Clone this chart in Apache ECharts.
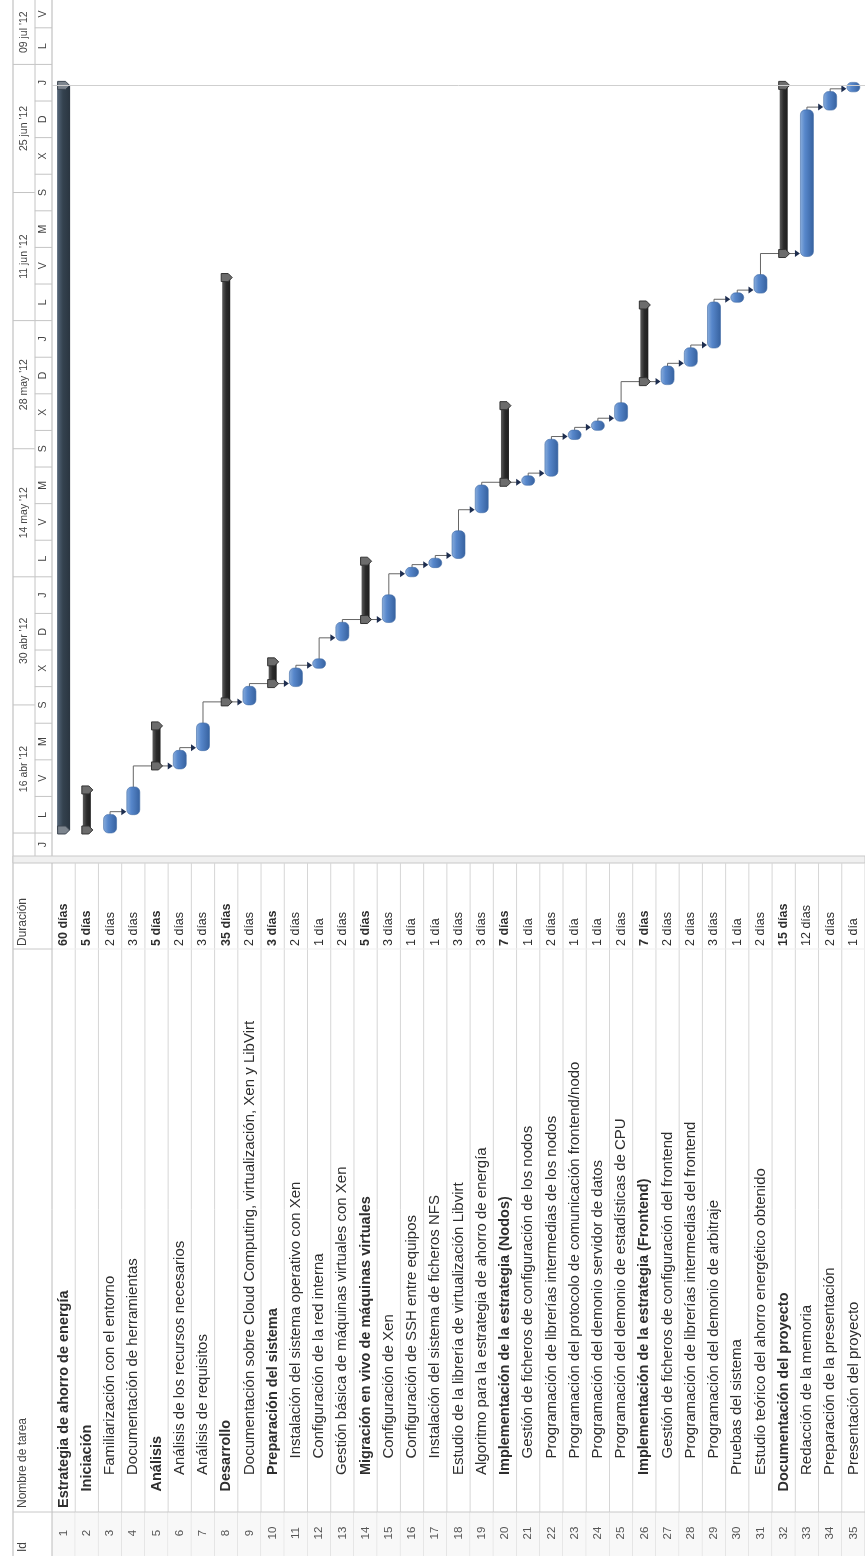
<!DOCTYPE html>
<html>
<head>
<meta charset="utf-8">
<script src="https://cdn.jsdelivr.net/npm/echarts@6/dist/echarts.min.js"></script>
<style>
  html, body { margin: 0; padding: 0; background: #ffffff; }
  #chart { width: 865px; height: 1556px; }
</style>
</head>
<body>
<div id="chart"></div>
<script>
// ---- Project plan data ----
const taskIds = [1,2,3,4,5,6,7,8,9,10,11,12,13,14,15,16,17,18,19,20,21,22,23,24,25,26,27,28,29,30,31,32,33,34,35];
const taskNames = [
  "Estrategia de ahorro de energía",
  "Iniciación",
  "Familiarización con el entorno",
  "Documentación de herramientas",
  "Análisis",
  "Análisis de los recursos necesarios",
  "Análisis de requisitos",
  "Desarrollo",
  "Documentación sobre Cloud Computing, virtualización, Xen y LibVirt",
  "Preparación del sistema",
  "Instalación del sistema operativo con Xen",
  "Configuración de la red interna",
  "Gestión básica de máquinas virtuales con Xen",
  "Migración en vivo de máquinas virtuales",
  "Configuración de Xen",
  "Configuración de SSH entre equipos",
  "Instalación del sistema de ficheros NFS",
  "Estudio de la librería de virtualización Libvirt",
  "Algoritmo para la estrategia de ahorro de energía",
  "Implementación de la estrategia (Nodos)",
  "Gestión de ficheros de configuración de los nodos",
  "Programación de librerías intermedias de los nodos",
  "Programación del protocolo de comunicación frontend/nodo",
  "Programación del demonio servidor de datos",
  "Programación del demonio de estadísticas de CPU",
  "Implementación de la estrategia (Frontend)",
  "Gestión de ficheros de configuración del frontend",
  "Programación de librerías intermedias del frontend",
  "Programación del demonio de arbitraje",
  "Pruebas del sistema",
  "Estudio teórico del ahorro energético obtenido",
  "Documentación del proyecto",
  "Redacción de la memoria",
  "Preparación de la presentación",
  "Presentación del proyecto"
];
// duration in working days
const durations = [60,5,2,3,5,2,3,35,2,3,2,1,2,5,3,1,1,3,3,7,1,2,1,1,2,7,2,2,3,1,2,15,12,2,1];
// outline level of each task
const outlineLevels = [1,2,3,3,2,3,3,2,3,3,4,4,3,3,4,4,4,3,3,3,4,4,4,4,4,3,4,4,4,3,3,2,3,3,3];
// first working day of each task, counted from Monday 16 abr 2012
const startWorkdays = [0,0,0,2,5,5,7,10,10,12,12,14,15,17,17,20,21,22,25,28,28,29,31,32,33,35,35,37,39,42,43,45,45,57,59];
// finish-to-start links [predecessor id, successor id]
const links = [[3,4],[4,6],[6,7],[7,9],[9,11],[11,12],[12,13],[13,15],[15,16],[16,17],[17,18],[18,19],
               [19,21],[21,22],[22,23],[23,24],[24,25],[25,27],[27,28],[28,29],[29,30],[30,31],[31,33],[33,34],[34,35]];

// ---- Timescale (calendar days from 16 abr 2012) ----
const majorTicks = [-14,0,14,28,42,56,70,84];
const majorLabels = ["02 abr '12","16 abr '12","30 abr '12","14 may '12","28 may '12","11 jun '12","25 jun '12","09 jul '12"];
const minorTicks = [-4,0,4,8,12,16,20,24,28,32,36,40,44,48,52,56,60,64,68,72,76,80,84,88];
const minorLabels = ['J','L','V','M','S','X','D','J','L','V','M','S','X','D','J','L','V','M','S','X','D','J','L','V'];

// ---- Layout ----
const FONT = '"Liberation Sans", Arial, sans-serif';
const GANTT_H = 856;
const DAY_MIN = -2.51, DAY_MAX = 91.04;
const TABLE_TOP = 863;
const NAME_EDGE = 949;   // border between Duración and Nombre de tarea
const ID_EDGE = 1512;    // border between Nombre de tarea and Id
const HEADER_W = 39;
const INDENT = 16.5;

// working day -> calendar day (weekends are non-working)
function toCalendar(w) { return w + 2 * Math.floor(w / 5); }
const taskStart = startWorkdays.map(w => toCalendar(w) + 8 / 24);
const taskFinish = startWorkdays.map((w, i) => toCalendar(w + durations[i] - 1) + 17 / 24);
const isSummary = outlineLevels.map((l, i) => i < outlineLevels.length - 1 && outlineLevels[i + 1] > l);
const projectFinish = taskFinish[0];

const taskData = taskIds.map((id, i) => [i, taskStart[i], taskFinish[i]]);
const linkData = links.map(([p, s]) => [p - 1, s - 1]);
const tierData = [];
majorTicks.forEach((d, k) => tierData.push([0, d, d + 14, majorLabels[k]]));
minorTicks.forEach((d, k) => tierData.push([1, d, d + 4, minorLabels[k]]));

function renderTask(params, api) {
  const i = api.value(0);
  const pS = api.coord([i, api.value(1)]);
  const pF = api.coord([i, api.value(2)]);
  const x = pS[0], yS = pS[1], yF = pF[1];
  const kids = [];
  if (i === 0) {
    kids.push({ type: 'rect', shape: { x: x - 6.5, y: yF, width: 13, height: yS - yF },
      style: { fill: new echarts.graphic.LinearGradient(0, 0, 1, 0, [
        { offset: 0, color: '#56677a' }, { offset: 0.45, color: '#34424f' }, { offset: 1, color: '#2a3540' }]) } });
    [yS, yF].forEach(y => kids.push({ type: 'polygon',
      shape: { points: [[x - 6, y - 4], [x + 2, y - 4], [x + 6, y], [x + 2, y + 4], [x - 6, y + 4]] },
      style: { fill: '#7d858e', stroke: '#3b4550', lineWidth: 1 } }));
  } else if (isSummary[i]) {
    kids.push({ type: 'rect', shape: { x: x - 4, y: yF, width: 8, height: yS - yF },
      style: { fill: new echarts.graphic.LinearGradient(0, 0, 1, 0, [
        { offset: 0, color: '#5a5a5a' }, { offset: 0.5, color: '#2a2a2a' }, { offset: 1, color: '#1e1e1e' }]) } });
    [yS, yF].forEach(y => kids.push({ type: 'polygon',
      shape: { points: [[x - 5, y - 4], [x + 2, y - 4], [x + 6, y], [x + 2, y + 4], [x - 5, y + 4]] },
      style: { fill: '#6c6c6c', stroke: '#333333', lineWidth: 1 } }));
  } else {
    const cap = 3;
    kids.push({ type: 'rect', shape: { x: x - 6.5, y: yF - cap, width: 13, height: yS - yF + 2 * cap, r: 5 },
      style: { fill: new echarts.graphic.LinearGradient(0, 0, 1, 0, [
        { offset: 0, color: '#8aaedd' }, { offset: 0.35, color: '#5787cb' }, { offset: 1, color: '#36619f' }]),
        stroke: '#426ca6', lineWidth: 0.6 } });
  }
  return { type: 'group', children: kids };
}

function renderLink(params, api) {
  const p = api.value(0), s = api.value(1);
  const a = api.coord([p, taskFinish[p]]);
  const b = api.coord([s, taskStart[s]]);
  const tip = b[0] - 7;
  return { type: 'group', children: [
    { type: 'polyline', shape: { points: [[a[0], a[1] - 2], [a[0], b[1]], [tip - 4, b[1]]] },
      style: { stroke: '#666666', lineWidth: 1, fill: null } },
    { type: 'polygon', shape: { points: [[tip - 5, b[1] - 3.5], [tip, b[1]], [tip - 5, b[1] + 3.5]] },
      style: { fill: '#1d2d4f' } }
  ] };
}

function renderTier(params, api) {
  const tier = api.value(0);
  const cs = params.coordSys;
  const edges = [0, 0.56, 1];
  const xa = api.coord([edges[tier], 0])[0], xb = api.coord([edges[tier + 1], 0])[0];
  const y0 = api.coord([0, api.value(1)])[1], y1 = api.coord([0, api.value(2)])[1];
  const label = tierData[params.dataIndex][3];
  // labels of cells cut by the edge of the view are centred in the visible part
  const vis0 = Math.min(y0, cs.y + cs.height), vis1 = Math.max(y1, cs.y);
  const textLen = tier === 0 ? 46 : 8;
  const kids = [
    { type: 'line', shape: { x1: xa, y1: y0, x2: xb, y2: y0 }, style: { stroke: '#c4c4c4', lineWidth: 1 } }
  ];
  if (vis0 - vis1 > textLen) {
    kids.push({ type: 'text', x: (xa + xb) / 2, y: (vis0 + vis1) / 2, rotation: Math.PI / 2,
      style: { text: label, fill: '#444444', font: '10.5px ' + FONT, align: 'center', verticalAlign: 'middle' } });
  }
  return { type: 'group', children: kids };
}

function renderRow(params, api) {
  const i = api.value(0);
  const cs = params.coordSys;
  const cx = api.coord([i, 0])[0];
  const bw = api.size([1, 0])[0];
  const x1 = cx + bw / 2, x0 = cx - bw / 2;
  const bottom = cs.y + cs.height;
  const bold = isSummary[i];
  const kids = [
    { type: 'rect', shape: { x: x0, y: ID_EDGE, width: bw, height: bottom - ID_EDGE }, style: { fill: '#f8f8f8' } },
    { type: 'line', shape: { x1: x1, y1: cs.y, x2: x1, y2: bottom }, style: { stroke: '#d6d6d6', lineWidth: 1 } },
    { type: 'line', shape: { x1: x0, y1: NAME_EDGE, x2: x1, y2: NAME_EDGE }, style: { stroke: '#efefef', lineWidth: 1 } },
    { type: 'line', shape: { x1: x0, y1: ID_EDGE, x2: x1, y2: ID_EDGE }, style: { stroke: '#c8c8c8', lineWidth: 1 } },
    { type: 'text', x: cx, y: (ID_EDGE + bottom) / 2 - 1, rotation: Math.PI / 2,
      style: { text: String(taskIds[i]), fill: '#555555', font: '11.5px ' + FONT, align: 'center', verticalAlign: 'middle' } },
    { type: 'text', x: cx, y: ID_EDGE - 4 - (outlineLevels[i] - 1) * INDENT, rotation: Math.PI / 2,
      style: { text: taskNames[i], fill: '#2e2e2e', font: (bold ? 'bold 14.5px ' : '15px ') + FONT,
        align: 'left', verticalAlign: 'middle' } },
    { type: 'text', x: cx, y: NAME_EDGE - 3, rotation: Math.PI / 2,
      style: { text: durations[i] + (durations[i] === 1 ? ' día' : ' días'), fill: '#2e2e2e',
        font: (bold ? 'bold 12.5px ' : '12.5px ') + FONT, align: 'left', verticalAlign: 'middle' } }
  ];
  if (i === 0) {
    const hx0 = cs.x - HEADER_W, hx = hx0 + 10;
    kids.push(
      { type: 'line', shape: { x1: cs.x, y1: cs.y, x2: cs.x, y2: bottom }, style: { stroke: '#bcbcbc', lineWidth: 1 } },
      { type: 'line', shape: { x1: hx0, y1: NAME_EDGE, x2: cs.x, y2: NAME_EDGE }, style: { stroke: '#c8c8c8', lineWidth: 1 } },
      { type: 'line', shape: { x1: hx0, y1: ID_EDGE, x2: cs.x, y2: ID_EDGE }, style: { stroke: '#c8c8c8', lineWidth: 1 } },
      { type: 'text', x: hx, y: NAME_EDGE - 3, rotation: Math.PI / 2,
        style: { text: 'Duración', fill: '#444444', font: '12px ' + FONT, align: 'left', verticalAlign: 'middle' } },
      { type: 'text', x: hx, y: ID_EDGE - 4, rotation: Math.PI / 2,
        style: { text: 'Nombre de tarea', fill: '#444444', font: '12px ' + FONT, align: 'left', verticalAlign: 'middle' } },
      { type: 'text', x: hx, y: bottom - 4, rotation: Math.PI / 2,
        style: { text: 'Id', fill: '#444444', font: '12px ' + FONT, align: 'left', verticalAlign: 'middle' } }
    );
  }
  return { type: 'group', children: kids };
}

const chart = echarts.init(document.getElementById('chart'));
chart.setOption({
  animation: false,
  backgroundColor: '#ffffff',
  grid: [
    { left: 52, top: 0, width: 815.5, height: GANTT_H },
    { left: 13, top: 0, width: HEADER_W, height: GANTT_H },
    { left: 52, top: TABLE_TOP, width: 815.5, height: 1556 - TABLE_TOP }
  ],
  xAxis: [
    { gridIndex: 0, type: 'category', data: taskIds, show: false },
    { gridIndex: 1, type: 'value', min: 0, max: 1, show: false },
    { gridIndex: 2, type: 'category', data: taskIds, show: false }
  ],
  yAxis: [
    { gridIndex: 0, type: 'value', min: DAY_MIN, max: DAY_MAX, show: false },
    { gridIndex: 1, type: 'value', min: DAY_MIN, max: DAY_MAX, show: false },
    { gridIndex: 2, type: 'value', min: 0, max: 1, show: false }
  ],
  graphic: [
    { type: 'line', shape: { x1: 13, y1: 0, x2: 13, y2: 1556 }, style: { stroke: '#b5b5b5', lineWidth: 1 } },
    { type: 'line', shape: { x1: 35, y1: 0, x2: 35, y2: GANTT_H }, style: { stroke: '#c4c4c4', lineWidth: 1 } },
    { type: 'line', shape: { x1: 52, y1: 0, x2: 52, y2: GANTT_H }, style: { stroke: '#b5b5b5', lineWidth: 1 } },
    { type: 'rect', shape: { x: 13, y: GANTT_H, width: 852, height: TABLE_TOP - GANTT_H },
      style: { fill: '#f0f0f0', stroke: '#c8c8c8', lineWidth: 1 } }
  ],
  series: [
    { type: 'custom', xAxisIndex: 1, yAxisIndex: 1, clip: true, renderItem: renderTier,
      data: tierData.map(d => [d[0], d[1], d[2]]), silent: true },
    { type: 'custom', xAxisIndex: 0, yAxisIndex: 0, renderItem: renderLink, data: linkData, silent: true, z: 2,
      markLine: { silent: true, symbol: 'none', label: { show: false },
        lineStyle: { color: '#cfcfcf', width: 1, type: 'solid' }, data: [{ yAxis: projectFinish }] } },
    { type: 'custom', xAxisIndex: 0, yAxisIndex: 0, renderItem: renderTask, data: taskData, silent: true, z: 3 },
    { type: 'custom', xAxisIndex: 2, yAxisIndex: 2, renderItem: renderRow, data: taskIds.map((id, i) => [i]), silent: true }
  ]
});
</script>
</body>
</html>
